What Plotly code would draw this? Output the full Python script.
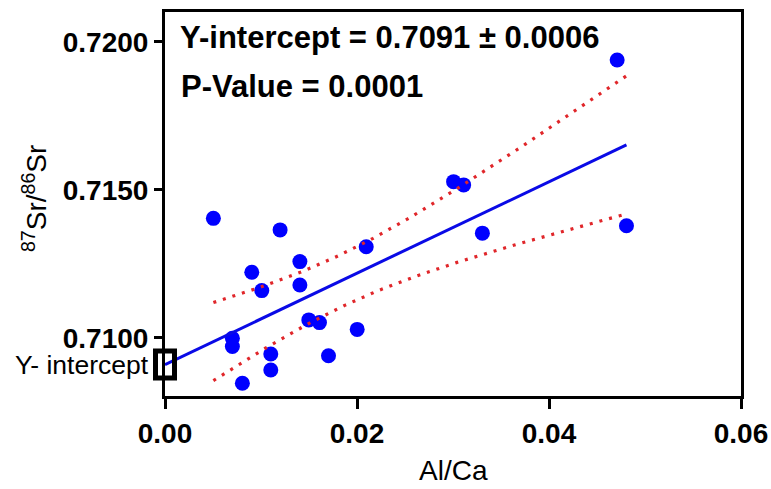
import numpy as np
import plotly.graph_objects as go

# Al/Ca ratios and 87Sr/86Sr values for each sample
al_ca = [0.00504, 0.01199, 0.00904, 0.01008, 0.01405, 0.01405, 0.02096,
         0.01498, 0.01609, 0.02002, 0.00702, 0.00702, 0.01102, 0.01102,
         0.01703, 0.00806, 0.03006, 0.03111, 0.04710, 0.04807, 0.03306]
sr_ratio = [0.71404, 0.71365, 0.71222, 0.71160, 0.71258, 0.71179, 0.71308,
            0.71061, 0.71052, 0.71029, 0.70999, 0.70971, 0.70946, 0.70892,
            0.70940, 0.70847, 0.71528, 0.71517, 0.71939, 0.71379, 0.71354]

# Linear fit parameters
INTERCEPT = 0.7091
INTERCEPT_ERR = 0.0006
SLOPE = 0.1544
P_VALUE = "0.0001"
T_95 = 2.093  # two-sided 95% t value, 19 degrees of freedom

X_TICKS = [0.00, 0.02, 0.04, 0.06]
Y_TICKS = [0.7100, 0.7150, 0.7200]
X_RANGE = [0.0, 0.06]
Y_RANGE = [0.70804, 0.72101]

FONT = "Liberation Sans, Arial, sans-serif"

x = np.array(al_ca)
y = np.array(sr_ratio)
n = len(x)

# regression line from x = 0 out to the largest sample
line_x = np.array([0.0, x.max()])
line_y = INTERCEPT + SLOPE * line_x

# 95% confidence band of the fitted line
resid = y - (INTERCEPT + SLOPE * x)
s = np.sqrt(np.sum(resid ** 2) / (n - 2))
sxx = np.sum((x - x.mean()) ** 2)
band_x = np.linspace(x.min(), x.max(), 120)
band_fit = INTERCEPT + SLOPE * band_x
half = T_95 * s * np.sqrt(1.0 / n + (band_x - x.mean()) ** 2 / sxx)

fig = go.Figure()

fig.add_trace(go.Scatter(
    x=x, y=y, mode="markers",
    marker=dict(color="#0000FF", size=15, line=dict(width=0)),
    showlegend=False, hoverinfo="x+y",
))
fig.add_trace(go.Scatter(
    x=line_x, y=line_y, mode="lines",
    line=dict(color="#0A0AE6", width=3),
    showlegend=False,
))
for band in (band_fit + half, band_fit - half):
    fig.add_trace(go.Scatter(
        x=band_x, y=band, mode="lines",
        line=dict(color="#E0262A", width=3.2, dash="3px,7px"),
        showlegend=False,
    ))

axis_common = dict(
    showgrid=False, zeroline=False, showline=True, linecolor="black",
    linewidth=3, mirror=True, ticks="outside", tickwidth=3,
    tickcolor="black", automargin=False,
    tickfont=dict(family=FONT, size=28, color="black", weight="bold"),
)

fig.update_xaxes(range=X_RANGE, tickvals=X_TICKS, tickformat=".2f",
                 ticklen=10, **axis_common)
fig.update_yaxes(range=Y_RANGE, tickvals=Y_TICKS, tickformat=".4f",
                 ticklen=8, **axis_common)

# marker box around the y-intercept on the axis
y_frac = (INTERCEPT - Y_RANGE[0]) / (Y_RANGE[1] - Y_RANGE[0])
fig.add_shape(
    type="rect", xref="paper", yref="paper",
    xsizemode="pixel", ysizemode="pixel",
    xanchor=0, yanchor=y_frac,
    x0=-9.5, x1=9.5, y0=-13.5, y1=13.5,
    line=dict(color="black", width=5), fillcolor="rgba(0,0,0,0)",
)

annotations = [
    dict(text=f"Y-intercept = {INTERCEPT:.4f} ± {INTERCEPT_ERR:.4f}",
         x=0.022, y=0.934, xanchor="left", yanchor="middle",
         font=dict(family=FONT, size=31, color="black", weight="bold")),
    dict(text=f"P-Value = {P_VALUE}",
         x=0.024, y=0.806, xanchor="left", yanchor="middle",
         font=dict(family=FONT, size=31, color="black", weight="bold")),
    dict(text="Y- intercept", x=0, y=y_frac, xshift=-14,
         xanchor="right", yanchor="middle",
         font=dict(family=FONT, size=26.5, color="black")),
    dict(text="Al/Ca", x=0.5, y=-0.193, xanchor="center", yanchor="middle",
         font=dict(family=FONT, size=28, color="black")),
    dict(text="<sup>87</sup>Sr/<sup>86</sup>Sr", x=-0.226, y=0.515,
         textangle=-90, xanchor="center", yanchor="middle",
         font=dict(family=FONT, size=28, color="black")),
]
for a in annotations:
    a.setdefault("xref", "paper")
    a.setdefault("yref", "paper")
    a["showarrow"] = False
    fig.add_annotation(**a)

fig.update_layout(
    width=771, height=489,
    margin=dict(l=165, r=30, t=12, b=93),
    paper_bgcolor="white", plot_bgcolor="white",
    showlegend=False,
)

fig.write_html("out.html")
